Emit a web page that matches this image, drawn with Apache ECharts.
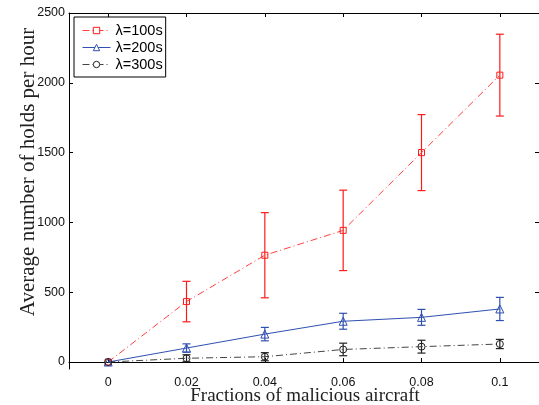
<!DOCTYPE html>
<html>
<head>
<meta charset="utf-8">
<script src="https://cdn.jsdelivr.net/npm/echarts@6/dist/echarts.min.js"></script>
<style>html,body{margin:0;padding:0;background:#fff;}#c{width:539px;height:405px;}</style>
</head>
<body>
<div id="c"></div>
<script>
// ---- data ----
var fractions = [0, 0.02, 0.04, 0.06, 0.08, 0.1];
var seriesNames = ['λ=100s', 'λ=200s', 'λ=300s'];
var holds100 = [0, 433, 765, 943, 1500, 2055];
var err100   = [0, 145, 305, 288, 272, 293];
var holds200 = [0, 100, 200, 292, 320, 380];
var err200   = [0, 30, 48, 57, 57, 83];
var holds300 = [0, 27, 38, 90, 110, 129];
var err300   = [0, 25, 29, 45, 46, 33];
var xTickValues = [0, 0.02, 0.04, 0.06, 0.08, 0.1];
var xTickLabels = ['0', '0.02', '0.04', '0.06', '0.08', '0.1'];
var yTickValues = [0, 500, 1000, 1500, 2000, 2500];
var yTickLabels = ['0', '500', '1000', '1500', '2000', '2500'];
var xTitle = 'Fractions of malicious aircraft';
var yTitle = 'Average number of holds per hour';

var colors = ['#ff1a1a', '#3050b0', '#222222'];
var lineColors = ['#ff4040', '#3050b0', '#444444'];
var symbols = ['rect', 'triangle', 'circle'];
var symbolSizes = [6, 8, 7];
var dashDot = [7, 3, 1, 3];
var lineTypes = [dashDot, 'solid', dashDot];

var means = [holds100, holds200, holds300];
var errs = [err100, err200, err300];

function pairs(vals) {
  return fractions.map(function (f, i) { return [f, vals[i]]; });
}
function errData(vals, e) {
  var out = [];
  fractions.forEach(function (f, i) {
    if (e[i] > 0) out.push([f, vals[i] - e[i], vals[i] + e[i]]);
  });
  return out;
}
function errRender(color) {
  return function (params, api) {
    var x = api.value(0), lo = api.value(1), hi = api.value(2);
    var t = api.coord([x, hi]), b = api.coord([x, lo]);
    var hw = 4;
    var st = { stroke: color, lineWidth: 1.2 };
    return {
      type: 'group',
      children: [
        { type: 'line', shape: { x1: t[0], y1: t[1], x2: b[0], y2: b[1] }, style: st },
        { type: 'line', shape: { x1: t[0] - hw, y1: t[1], x2: t[0] + hw, y2: t[1] }, style: st },
        { type: 'line', shape: { x1: b[0] - hw, y1: b[1], x2: b[0] + hw, y2: b[1] }, style: st }
      ]
    };
  };
}

var series = [];
for (var k = 0; k < 3; k++) {
  series.push({
    type: 'custom',
    name: seriesNames[k] + ' err',
    renderItem: errRender(colors[k]),
    encode: { x: 0, y: [1, 2] },
    data: errData(means[k], errs[k]),
    z: 2,
    silent: true
  });
}
for (var k2 = 0; k2 < 3; k2++) {
  series.push({
    type: 'line',
    name: seriesNames[k2],
    data: pairs(means[k2]),
    symbol: symbols[k2],
    symbolSize: symbolSizes[k2],
    showSymbol: true,
    itemStyle: { color: 'rgba(255,255,255,0)', borderColor: colors[k2], borderWidth: 1 },
    lineStyle: { color: lineColors[k2], width: 1, type: lineTypes[k2] },
    z: 3
  });
}

var legendData = seriesNames.map(function (n, i) {
  return {
    name: n,
    itemStyle: { color: '#fff', borderColor: colors[i], borderWidth: 1 },
    lineStyle: { color: lineColors[i], width: 1, type: lineTypes[i] }
  };
});

var labelFont = { fontFamily: 'Liberation Sans', fontSize: 12.5, color: '#111' };
var chart = echarts.init(document.getElementById('c'), null, { renderer: 'canvas' });
chart.setOption({
  animation: false,
  backgroundColor: '#fff',
  grid: { left: 69, top: 13, right: 0, bottom: 36, containLabel: false },
  xAxis: [{
    type: 'value', min: -0.01, max: 0.11, position: 'bottom',
    axisLine: { show: true, lineStyle: { color: '#000', width: 1 } },
    axisTick: { show: true, inside: true, length: 4, customValues: xTickValues, lineStyle: { color: '#000' } },
    axisLabel: Object.assign({ margin: 7, customValues: xTickValues,
      formatter: function (v) { var i = xTickValues.indexOf(v); return i >= 0 ? xTickLabels[i] : ''; } }, labelFont),
    splitLine: { show: false }
  }, {
    type: 'value', min: -0.01, max: 0.11, position: 'top',
    axisLine: { show: true, onZero: false, lineStyle: { color: '#000', width: 1 } },
    axisTick: { show: true, inside: true, length: 4, customValues: xTickValues, lineStyle: { color: '#000' } },
    axisLabel: { show: false },
    splitLine: { show: false }
  }],
  yAxis: [{
    type: 'value', min: -50, max: 2500, position: 'left',
    axisLine: { show: true, onZero: false, lineStyle: { color: '#000', width: 1 } },
    axisTick: { show: true, inside: true, length: 4, customValues: yTickValues, lineStyle: { color: '#000' } },
    axisLabel: Object.assign({ margin: 4, customValues: yTickValues,
      formatter: function (v) { var i = yTickValues.indexOf(v); return i >= 0 ? yTickLabels[i] : ''; } }, labelFont),
    splitLine: { show: false }
  }, {
    type: 'value', min: -50, max: 2500, position: 'right',
    axisLine: { show: true, onZero: false, lineStyle: { color: '#000', width: 1 } },
    axisTick: { show: true, inside: true, length: 4, customValues: yTickValues, lineStyle: { color: '#000' } },
    axisLabel: { show: false },
    splitLine: { show: false }
  }],
  legend: {
    data: legendData,
    left: 74, top: 17, orient: 'vertical',
    itemWidth: 28, itemHeight: 8, itemGap: 2,
    padding: [6, 3, 5, 8],
    borderColor: '#000', borderWidth: 1, backgroundColor: '#fff',
    textStyle: { fontFamily: 'Liberation Sans', fontSize: 14.5, color: '#000' }
  },
  graphic: [
    { type: 'text', x: 305, y: 396, style: { text: xTitle, font: '19px "Liberation Serif"', fill: '#222', align: 'center', verticalAlign: 'middle' } },
    { type: 'text', x: 28, y: 172, rotation: Math.PI / 2, style: { text: yTitle, font: '21px "Liberation Serif"', fill: '#222', align: 'center', verticalAlign: 'middle' } }
  ],
  series: series
});
</script>
</body>
</html>
